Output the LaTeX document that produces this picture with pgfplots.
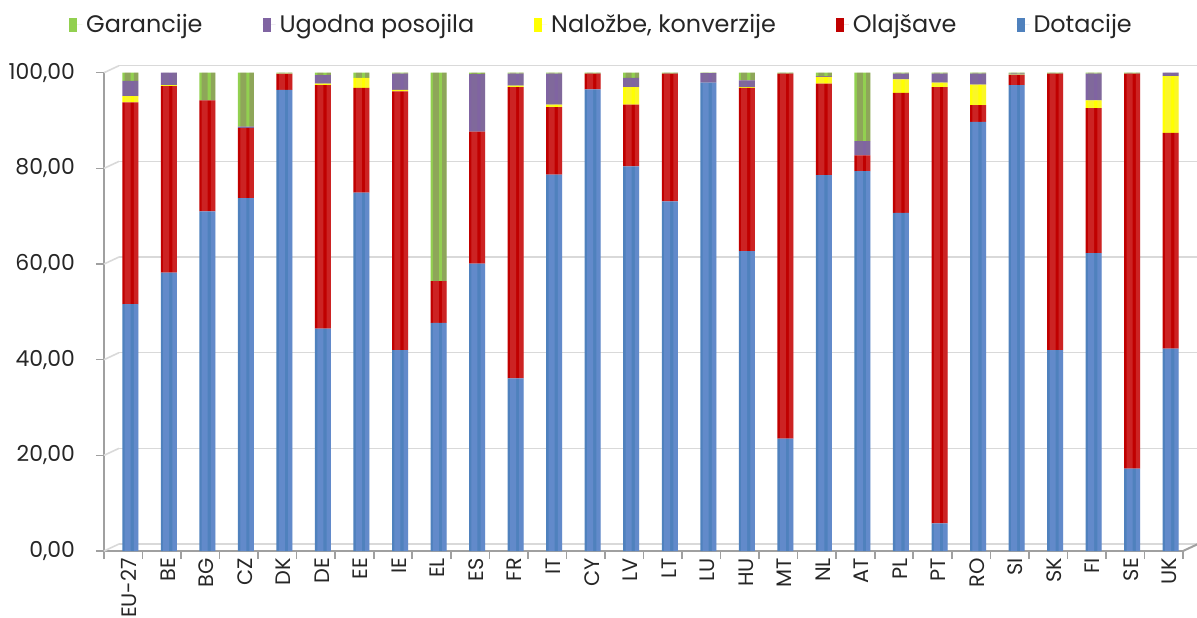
\documentclass[border=0pt]{standalone}
\usepackage{fontspec}
\setmainfont{Poppins}
\usepackage{pgfplots}
\usepackage{pgfplotstable}
\pgfplotsset{compat=1.18}
\definecolor{axisgray}{HTML}{A0A0A0}
\definecolor{gridgray}{HTML}{D9D9D9}
\definecolor{txt}{HTML}{262626}
\definecolor{cDot}{HTML}{4F81BD}
\definecolor{cOla}{HTML}{C00000}
\definecolor{cNal}{HTML}{FFFF00}
\definecolor{cUgo}{HTML}{8064A2}
\definecolor{cGar}{HTML}{92D050}
\pgfplotstableread{
x dot ola nal ugo gar
0 51.6 42.2 1.3 3.2 1.7
1 58.2 39.0 0.2 2.6 0.0
2 71.0 23.2 0.0 0.0 5.8
3 73.8 14.6 0.0 0.3 11.3
4 96.4 3.3 0.1 0.1 0.1
5 46.5 50.9 0.3 1.8 0.5
6 74.9 21.9 2.1 0.0 1.1
7 42.0 54.1 0.3 3.4 0.2
8 47.7 8.7 0.0 0.0 43.6
9 60.1 27.6 0.0 12.0 0.3
10 36.1 60.9 0.3 2.5 0.2
11 78.7 14.1 0.5 6.5 0.2
12 96.5 3.3 0.0 0.0 0.2
13 80.4 12.9 3.7 1.9 1.1
14 73.1 26.7 0.0 0.0 0.2
15 97.9 0.0 0.0 2.0 0.1
16 62.7 34.1 0.2 1.4 1.6
17 23.5 76.3 0.0 0.0 0.2
18 78.6 19.1 1.4 0.2 0.7
19 79.4 3.3 0.0 3.0 14.3
20 70.7 25.1 2.8 1.2 0.2
21 5.8 91.2 0.9 1.9 0.2
22 89.7 3.5 4.3 2.3 0.2
23 97.4 2.1 0.1 0.2 0.2
24 42.0 57.8 0.0 0.0 0.2
25 62.3 30.3 1.6 5.6 0.2
26 17.2 82.6 0.0 0.0 0.2
27 42.3 45.1 11.9 0.7 0.0
}\data
\pgfplotsset{
  frame/.style={at={(52bp,33.5bp)}, anchor=south west,
    scale only axis, width=539.5bp, height=239.15bp,
    xmin=-0.5, xmax=27.5, ymin=0, ymax=100, clip=false},
  overlay/.style={frame, hide axis, ybar stacked, every axis plot/.append style={draw=none}},
}
\begin{document}
\begin{tikzpicture}
\useasboundingbox (0,0) rectangle (598.5bp,309bp);
\begin{axis}[
  frame,
  ybar stacked, bar width=8bp, bar shift=3.5bp,
  axis x line*=bottom, axis y line*=left,
  axis line style={draw=axisgray, line width=1bp},
  every axis plot/.append style={draw=none},
  ytick={0,20,...,100},
  ymajorgrids,
  major grid style={draw=gridgray, line width=0.8bp, xshift=7.5bp, yshift=3.5bp},
  tick align=outside, major tick length=4bp,
  tick style={draw=axisgray, line width=0.8bp},
  xtick={-0.5,0.5,...,27.5}, xticklabels={},
  extra x ticks={0,1,...,27},
  extra x tick labels={EU-27,BE,BG,CZ,DK,DE,EE,IE,EL,ES,FR,IT,CY,LV,LT,LU,HU,MT,NL,AT,PL,PT,RO,SI,SK,FI,SE,UK},
  extra x tick style={major tick length=0pt, xticklabel style={rotate=90, anchor=east, yshift=-3bp, font=\fontsize{10.5}{12}\selectfont, text=txt}},
  /pgf/number format/assume math mode=true,
  yticklabel style={/pgf/number format/fixed, /pgf/number format/fixed zerofill, /pgf/number format/precision=2, /pgf/number format/use comma, font=\fontsize{11}{13}\selectfont, text=txt, xshift=-7bp},
  reverse legend,
  legend image code/.code={\fill[#1] (0bp,-3.5bp) rectangle (4bp,3.5bp); \path (0bp,0bp) -- (6.5bp,0bp);},
  legend style={at={(0.462,1.10)}, anchor=center, draw=none, fill=none, legend columns=5,
    font=\fontsize{12}{14}\selectfont, text=txt,
    /tikz/every even column/.append style={column sep=28bp}},
]
\addplot[fill=cDot] table[x=x,y=dot]{\data};
\addlegendentry{Dotacije}
\addplot[fill=cOla] table[x=x,y=ola]{\data};
\addlegendentry{Olajšave}
\addplot[fill=cNal] table[x=x,y=nal]{\data};
\addlegendentry{Naložbe, konverzije}
\addplot[fill=cUgo] table[x=x,y=ugo]{\data};
\addlegendentry{Ugodna posojila}
\addplot[fill=cGar] table[x=x,y=gar]{\data};
\addlegendentry{Garancije}
\pgfplotsinvokeforeach{0,20,40,60,80,100}{
  \draw[gridgray, line width=0.8bp] (axis cs:-0.5,#1) -- ++(7.5bp,3.5bp);
}
\draw[axisgray, line width=1bp] (axis cs:27.5,0) -- ++(7.5bp,3.5bp);
\end{axis}
% highlight stripe (cylinder look)
\begin{axis}[overlay, bar width=3bp, bar shift=2.2bp,
  every axis plot/.append style={fill=white, fill opacity=0.2}]
\addplot table[x=x,y=dot]{\data};
\addplot table[x=x,y=ola]{\data};
\addplot table[x=x,y=nal]{\data};
\addplot table[x=x,y=ugo]{\data};
\addplot table[x=x,y=gar]{\data};
\end{axis}
% shadow stripe at the right edge
\begin{axis}[overlay, bar width=2.2bp, bar shift=6.4bp,
  every axis plot/.append style={fill=black, fill opacity=0.2}]
\addplot table[x=x,y=dot]{\data};
\addplot table[x=x,y=ola]{\data};
\addplot table[x=x,y=nal]{\data};
\addplot table[x=x,y=ugo]{\data};
\addplot table[x=x,y=gar]{\data};
\end{axis}
\end{tikzpicture}
\end{document}
